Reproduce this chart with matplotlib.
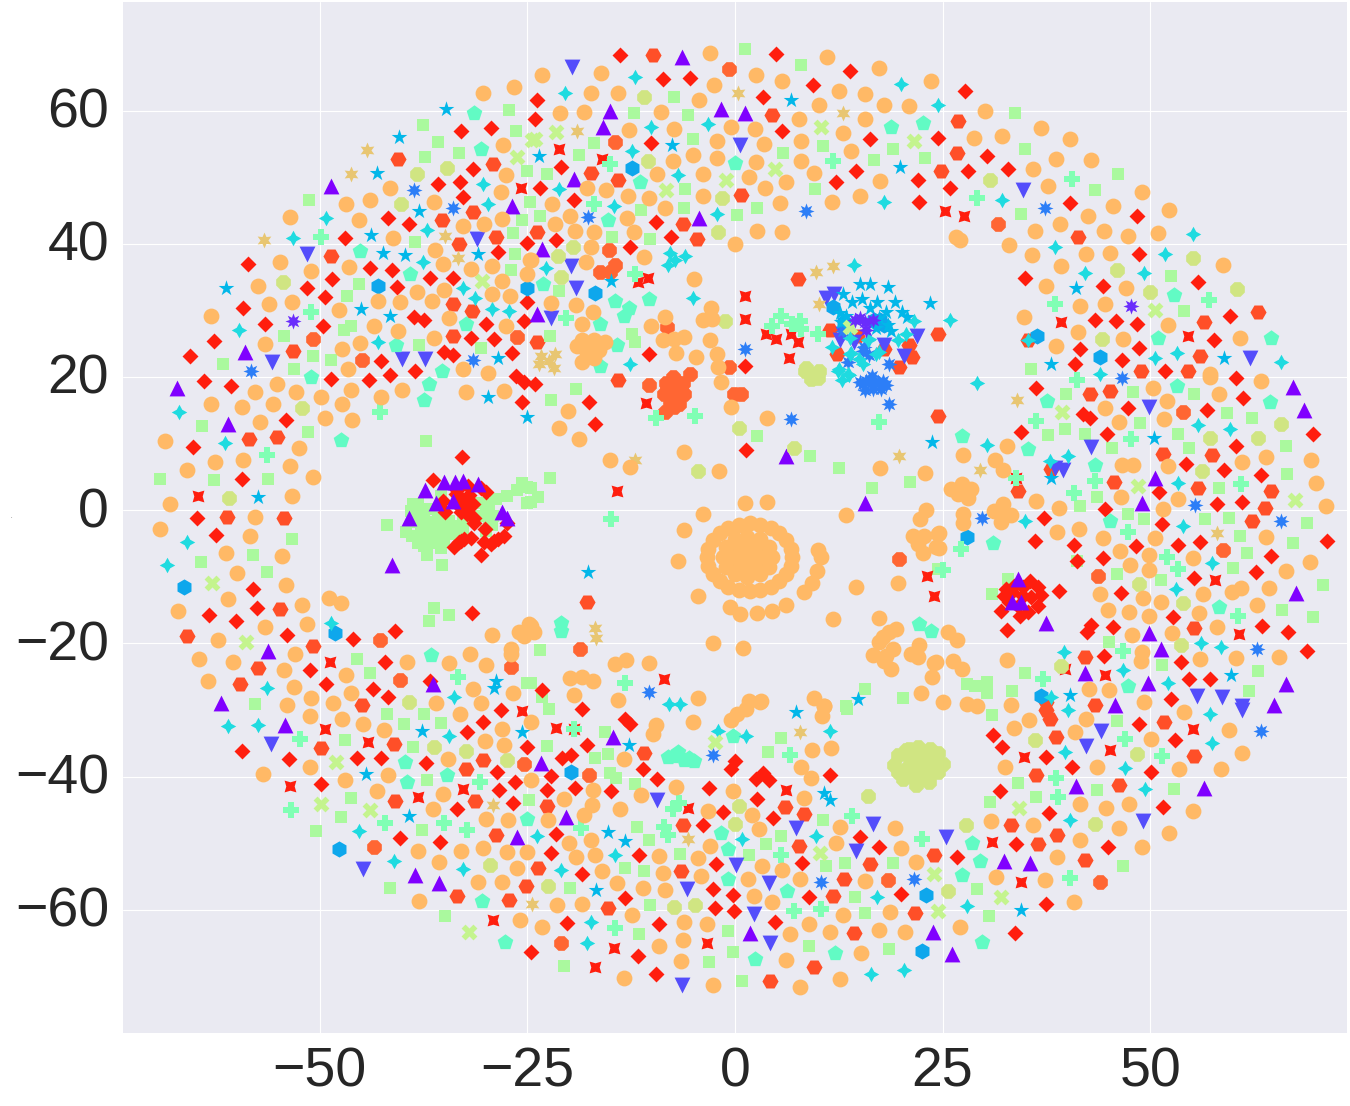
import matplotlib
matplotlib.use("Agg")
import matplotlib.pyplot as plt
from matplotlib.markers import MarkerStyle
from matplotlib.transforms import ScaledTranslation
import seaborn as sns

X_TICKS = [-50, -25, 0, 25, 50]
Y_TICKS = [-60, -40, -20, 0, 20, 40, 60]

# points, one list per class
tri_up = [(-48.7,48.6),(-26.8,45.6),(-59,23.8),(-6.4,68),(-15.1,60),(-15.9,57.6),(-1.7,60.3),(1.2,59.7),(-19.4,49.7),
    (-4.3,43.8),(-23.2,39.2),(-23.9,29.5),(-37.3,3),(-35.1,4.3),(-33.7,4.3),(-32.8,4.4),(-30.9,3.9),(-36,1.15),(-33.9,1.4),
    (-39.2,-1.1),(-28,-0.25),(-27.4,-1.25),(-41.3,-8.25),(-56.2,-21.1),(-67.2,18.4),(-61,13),(-36.4,-26.1),(-61.9,-28.9),
    (6.2,8.15),(15.7,1.15),(67.2,18.55),(68.5,15.05),(50.6,4.85),(49,1.1),(67.5,-12.5),(37.4,-16.95),(49.9,-18.45),
    (51.3,-20.9),(42.1,-24.5),(49.7,-25.95),(66.4,-26.15),(34.05,-10.35),(33.4,-13.85),(34.4,-13.85),(45.8,-29.25),
    (64.9,-29.25),(-54.2,-32.3),(-38.5,-54.8),(-35.6,-56.05),(-26.2,-49.05),(-14.7,-34.05),(-23.4,-37.95),(-20.4,-46.05),
    (1.8,-63.55),(23.8,-63.3),(41.1,-41.4),(56.5,-41.7),(32.4,-52.75),(35.5,-53),(26.1,-66.65)]
purple_star = [(-53.2,28.4),(47.7,30.7),(15,28.8),(15.8,27.1),(14.4,28.6),(15.6,28.3),(16.6,28.6)]
tri_down = [(-51.6,38.4),(-31.1,40.7),(-40.1,22.7),(-37.3,22.7),(-55.7,22.2),(-19.6,66.5),(0.6,54.8),(-19.7,36.7),
    (-19.1,33.4),(-22.2,28.8),(10.9,31.9),(11.9,32.4),(21.9,26.2),(20.3,23.2),(12.6,25.6),(17.9,24.8),(13,26.5),(14.3,25.25),
    (34.7,48.1),(62,22.8),(49.8,15.55),(42.9,9.45),(39.5,6.05),(38.5,6.4),(55.6,-27.85),(58.6,-28),(61,-29.35),(-55.9,-35.15),
    (-44.8,-53.95),(-9.4,-43.45),(0.1,-53.25),(4.1,-56.05),(7.4,-47.65),(14.6,-51.15),(16.6,-47.05),(-5.8,-56.85),(2.3,-60.7),
    (4.2,-65.05),(-6.4,-71.3),(61,-30.05),(44.1,-33.15),(42.3,-35.45),(49.1,-46.6),(25.4,-49.1)]
blue_star = [(-38.6,48),(-34,45.4),(-31.5,22.5),(-58.3,20.9),(-17.7,44),(8.6,44.9),(1.2,24.2),(37.3,45.4),(16.1,23.25),
    (15.5,24.5),(18.5,22),(13.6,22.2),(15.4,23.9),(13,26.9),(15.4,18.9),(16.5,20.2),(17.8,19.4),(16.6,18.2),(17.2,19.2),
    (15.8,19.4),(16.5,19.2),(15,19.2),(18.2,18.8),(15.6,18),(17.6,18.2),(16.2,19.6),(6.8,13.65),(18.6,16),(-10.3,-27.25),(46.6,19.9),
    (55.4,0.75),(65.8,-1.7),(29.7,-1.1),(62.9,-20.9),(-2.7,-36.8),(10.3,-55.85),(21.5,-55.4),(63.4,-33.1)]
blue_hex = [(-43,33.7),(-25,33.3),(-12.4,51.4),(-16.9,32.6),(11.8,30.5),(13.1,28.25),(17.5,28.5),(17.9,27.75),(16.7,28.5),(36.4,26.2),(44,23),
    (-66.4,-11.6),(-48.2,-18.45),(27.9,-4),(36.8,-27.85),(-47.7,-50.9),(-19.8,-39.3),(23,-57.75),(22.5,-66.2)]
sky_star = [(-34.8,60.3),(-40.5,56.1),(-43.1,50.6),(-38.1,44.9),(-43.8,41.3),(-42.4,38.6),(-39.7,38.3),(-30.9,38.4),(-61.3,33.3),
    (-45,30.2),(-41.6,29.2),(-28.6,22.8),(6.8,61.6),(19.9,51.5),(-7.6,54.9),(-23.6,53.2),(-14.9,34.4),(15,34),(16.3,34),
    (18.4,33.5),(23.5,31.1),(17.1,31.2),(15.3,31.75),(14.1,31.2),(19.3,31.2),(20.1,29.75),(20.7,29),(13,32.5),(13.4,29.1),(17.4,28.8),
    (18.4,27.8),(17,27.3),(12.8,28.3),(18.2,29.8),(18.8,26.9),(12.6,29.6),(16.2,30.4),(41.1,33.3),(58.9,22.8),(38.1,22),
    (-29.7,17),(-25,14),(-57.4,1.95),(-28.8,-25.6),(-29,-26.75),(23.7,10.3),(-17.7,-9.25),(14.8,-28.35),(50.5,10.9),(38.1,4.9),
    (59.7,-24.8),(40.4,-27.75),(-37.7,-33.15),(-25.6,-33.3),(-44.4,-39.65),(-39.3,-45.85),(-12.8,-35.2),(7.3,-30.3),(10.7,-42.5),
    (11.4,-43.55),(-15.3,-48.35),(-13.3,-49.7),(-16.7,-57.05),(34.4,-60.05)]
cyan_star = [(-30.3,48.9),(-29.7,45.9),(-49.2,43.9),(-53.2,40.8),(-37.1,42.1),(-37.6,37.3),(-32.7,33.4),(-31.3,31.9),(-29.3,30.2),
    (-27.2,29.9),(-59.7,27),(-43,25.2),(-12,65),(-20.5,62.7),(20,64),(-3.3,58),(-10.1,57.5),(-12.4,54),(-6.9,50.3),(-21.2,48.2),
    (18,46.3),(-2.2,44.4),(-22.8,36.4),(14.3,36.8),(-7.8,38.6),(-6,38.2),(-7.2,37.5),(-8.1,36.8),(-5,31.9),(-12.7,21.9),(-14.6,45.7),
    (11.7,24.5),(13.9,23.5),(14.9,22.75),(17.3,23.75),(16.1,25.75),(16,25.6),(13.8,25.9),(19.6,25.6),(17,23.4),(12.5,21.25),(20.6,26.4),
    (21.6,28.4),(14,23.6),(15.4,21.9),(13.7,20.25),(12.9,19.5),(13.6,20.4),(12.4,20.9),(24.5,60.8),(32.1,46.5),(55.1,41.5),(38.5,39.5),(51.8,38.4),(42.1,35.6),(49.3,35.6),
    (25.9,28.5),(35.3,25.6),(50.6,22.9),(53.2,23.6),(65.8,22.3),(-67,14.7),(-61.4,10.1),(-66,-4.75),(-68.4,-8.25),(-48.6,-16.95),
    (-56.3,-26.75),(-33.8,-28),(-7.9,-29.1),(-6.6,-29.1),(29.1,19.15),(44,20.5),(55.7,12.75),(59.6,12.15),(30.3,9.75),(37.9,7.4),
    (40.1,8.15),(53.4,4.15),(34.9,-1.6),(54,-2.4),(57.4,-7.95),(53.1,-11.8),(39.6,-21.25),(56.1,-19.95),(58.5,-20.55),(46.7,-23.95),
    (52.2,-25.9),(38.1,-28.1),(-61,-32.4),(-57.4,-32.3),(-34.5,-33.9),(-45.3,-48.1),(-41.1,-52.7),(-32.8,-53.9),(-2.1,-33.15),
    (1.3,-33.9),(11.5,-33.2),(0.9,-49.3),(9.7,-48.85),(-23.9,-48.9),(-14.5,-51.8),(-21,-54.05),(17.1,-58.05),(-17.3,-61.9),(-17.8,-65),
    (16.4,-69.65),(20.4,-69.1),(40.1,-29.95),(57.2,-30.65),(39.8,-36.35),(57.4,-35),(47,-38.75),(49.4,-41.9),(40.4,-46.5),(27.9,-59.45)]
pentagon = [(-31.4,59.7),(-30.6,54.3),(-45.2,38.9),(-39.1,35.4),(-32.4,28),(-40.8,24.8),(-35.3,20.9),(18.8,57.6),(22.6,58.2),(0,52.2),
    (-11.4,49.2),(-15.3,43.5),(-23.1,33.9),(-14.4,31.4),(-10.3,31.7),(-12.8,30.3),(-13.4,29.1),(-16.3,28),(-14.2,24.8),(-16.2,21.6),
    (52.9,32.3),(50.9,25.8),(64.5,25.9),(-51.1,20),(-36.8,19),(-37.4,16.6),(-47.4,10.5),(-36.6,-21.7),(-21,-16.95),(-20.9,-18.1),
    (22.2,-17.1),(23.6,-18.15),(53.2,18.65),(64.4,16.2),(37.6,16.45),(27.3,11.15),(35.3,9.15),(43.3,6.8),(45.2,-1.7),(31.1,-4.95),
    (58.3,-14.5),(47.3,-26.35),(-39.8,-37.85),(-39.5,-40.75),(-34.7,-39.8),(-25,-46.3),(-30.5,-58.75),(-27.7,-64.85),(-0.3,-33.85),
    (-8.1,-37.05),(-6.9,-36.3),(-6.1,-37.55),(-4.9,-37.65),(-7.5,-36.9),(-5.5,-37.2),(-1.7,-48.4),(-0.8,-50.9),(-0.9,-55.4),(6.3,-57.25),(12.1,-66.45),
    (2.4,-67.4),(28.5,-49.95),(29.5,-52.75),(27.3,-54.75),(29.8,-64.8)]
plus = [(-49.9,41),(-51,29.7),(11.8,52.4),(-15,52),(-17,46),(-12.1,35.5),(-20.4,28.8),(5.5,29.1),(4.5,27.6),(6.9,27.9),(7.9,27.2),
    (10,26.5),(7.8,28.4),(40.6,49.7),(29.1,46.9),(38.5,31),(57.1,31.6),(-42.8,14.7),(-56.3,8.3),(-33.4,-25),(-9.5,13.9),(-4.8,14.2),
    (17.3,13.25),(-14.9,-1.3),(-13.2,-26),(41.2,19.5),(36.3,13.35),(47.7,10.7),(43.3,4.4),(60.9,3.9),(40.8,2.65),(47.3,-3.3),(27.2,-5.8),
    (52,-7.05),(53.3,-8.85),(25,-9),(46.7,-21.2),(60.6,-15.9),(37.1,-25.3),(-52.4,-34.3),(-30.7,-40.75),(-53.5,-44.95),(-42.1,-47),
    (-35.1,-47),(-32.3,-47.95),(-19.4,-32.8),(6.6,-36.75),(14.1,-45.9),(-6.7,-43.9),(-7.5,-44.8),(22.5,-49.3),(-18.6,-47.75),(-8.6,-47.6),
    (-8.1,-48.8),(5.5,-51.7),(7.1,-60.2),(10.4,-59.9),(-14.5,-62.8),(47,-34.3),(51.4,-36.85),(38.6,-40.15),(38.9,-43),(40.3,-55.2),(33.8,4.9)]
square = [(-27.2,60.1),(-37.6,57.9),(-26.4,57),(-35.8,55.3),(-33.2,53.7),(-37.3,53),(-25,50.9),(-51.3,46.6),(-24.7,46.2),(-25.6,43.5),
    (-26.7,41.6),(-38.5,40.2),(-26.5,38.5),(-27,36),(-45.3,34),(-46.7,32.2),(-46.3,27.7),(-47.1,27),(-54.3,26.2),(-38.1,24.8),(-30.6,24.3),
    (-50.8,23.1),(-48.7,22.5),(-61.7,21.9),(-53.1,21.2),(1.2,69.2),(8,66.9),(-7.4,62.1),(-12.2,59.7),(-5.7,59.4),(-5,55.8),(-17,55.2),
    (10.6,54.7),(19,54.3),(5.8,53.7),(-18.8,53.4),(22.9,52.9),(16.7,52.6),(-22.7,50.5),(9.6,48.2),(-6,48.2),(-11.3,45),
    (-6.1,45.4),(2.6,45.4),(-23.5,44.2),(0.2,44.3),(-10.2,40.7),(-14.8,41),(-21.2,32.9),(-22.3,26.2),(-12.4,26.5),(-12.1,25.3),
    (33.7,59.7),(34.9,54.3),(46.1,50.4),(43.3,48),(34.4,44.4),(52.5,35.2),(54.1,29.9),(35.6,21.2),
    (-64.2,12.6),(-51.4,11.8),(-37.2,10.4),(-69.2,4.7),(-62.7,4.5),(-56.2,4.65),(-53.3,-4.35),(-58.1,-6.75),(-64.3,-7.8),(-56.3,-9.3),
    (-36.3,-14.75),(-34.4,-15.75),(-36.9,-16.65),(-45.5,-22.4),(-44,-24.5),(-25,-26),(-57.8,-29.1),
    (-41.9,-2.25),(-38.8,0.9),(-38.2,0.9),(-39,-0.1),(-38.8,-1.85),(-39.6,-3.25),(-38.9,-3.85),(-38.2,-5),(-37.4,-5.4),(-37.1,-6.75),
    (-35.3,-8.25),(-37.4,-0.35),(-36.8,-1.85),(-36.8,-2.85),(-36,-3.85),(-35,-4.85),(-35.6,-2.35),(-34.6,-2.85),(-33.6,-2.35),(-32.8,-1.6),
    (-32.8,-2.85),(-34.4,-1.6),(-30.8,1.15),(-29.8,-0.1),(-29.6,-1.85),(-28.8,1.75),(-27.4,2.15),(-26.3,3),(-25.6,4.15),(-25,3.55),(-25,1.15),
    (-31,-0.85),(-35.4,2.15),(-38,-0.5),(-38,-1.8),(-37.8,-3),(-37.5,-4),(-36.8,-4.5),(-36,-5),(-35.4,-5.7),(-35.8,-1),(-35.2,-1.5),(-34,-3.6),
    (-33.5,-3.4),(-33,-3.6),(-34.8,-3.6),(-35.5,-3.2),(-37,0.2),(-30,1),(-29.6,0.5),(-29.2,-0.8),(-29.3,-2.2),(-30,-3.2),
    (-19.1,18.15),(-22.1,16.5),(2.6,11.1),(9,8.1),(12.5,6.3),(-22.3,4.8),(-23.7,2),(-24.6,3.4),(-24.6,1.25),
    (16.5,3.3),(21.1,4.2),(-23.5,-21),(15.6,-26.9),(20.2,-28.2),(24.4,-8.85),(-24.6,-25.9),(-23.3,-28.1),(13.4,-29.35),
    (39.9,17.5),(47.9,17.7),(55.3,17.4),(59.3,14.55),(62.3,13.8),(39.8,12.15),(48.8,13.05),(37.7,11.25),(42.1,11.4),(53.3,11.5),(45.4,9.35),
    (54.7,9.4),(66.4,9.6),(66.5,5.4),(58.3,3.35),(43.6,1.95),(41.5,0.6),(47.3,-0.6),(49.2,-1.4),(56.6,-1.35),(59.5,-1.2),(60.8,-3.9),(68.9,-1.95),
    (67.2,-4.95),(61.7,-6.45),(60,-8.7),(46,-9.6),(51.3,-10.5),(70.8,-11.25),(32.9,-10.35),(31,-12.6),(65.9,-15),(69.6,-16.1),(45,-19.8),
    (51.4,-23.25),(34.9,-24.45),(63,-24.15),(27.9,-26.1),(28.9,-26.4),(30.4,-25.75),(30.3,-27.45),(33.4,-27.15),(61.9,-27.15),(41.2,-7.7),
    (-41.9,-30.55),(-37.5,-30.55),(-39.9,-32.05),(-35.4,-31.9),(-47,-34.45),(-38.8,-35.5),(-37.1,-40.45),(-46.3,-43.15),(-24.8,-43.45),(-47.5,-46),
    (-50.5,-48.1),(-37.7,-47.95),(-41.5,-56.8),(-34.9,-60.95),(-22.4,-29.8),(-15.7,-33.3),(-22.7,-35.35),(5.5,-34.15),(4,-36.25),(-15.3,-36.55),
    (-16.9,-37.15),(-15.1,-39.4),(-14.3,-40.15),(-12.1,-41.05),(10.6,-46.45),(5.5,-48.85),(-11.8,-47.5),(-10.4,-49.45),(3.7,-50.05),(-6.6,-51.55),
    (1.7,-51.7),(10.9,-53.5),(13.3,-53.05),(19,-53.05),(-13.2,-53.8),(-10.9,-54.25),(-19.9,-56.8),(14.4,-58.05),(-10.2,-59.35),(15.7,-60.55),
    (-0.8,-63.25),(-11.6,-63.7),(8.9,-65.5),(18.5,-65.95),(-0.3,-66.4),(-3.1,-67.9),(-20.6,-68.5),(0.8,-70.75),(13.5,-29.8),
    (30.9,-30.7),(46,-31.6),(34.1,-40.9),(43.6,-41.95),(52.9,-41.85),(36.2,-43),(30.7,-43.75),(46.7,-53.5),(29.1,-56.95),(30.6,-60.95)]
cross = [(-26.2,53),(-30.5,34.4),(-24.5,55.6),(-21.6,56.8),(-24.1,55.7),(10.3,57.6),(21.5,55.4),(4.8,51.2),(-1.1,49.5),(-8.3,48),(13.9,27.5),
    (50.6,30),(-63,-10.95),(-58.9,-19.8),(39.4,14.8),(48.5,3.6),(67.4,1.55),(-48.1,-37.8),(-49.9,-44.1),(-44,-45),(-32,-63.3),(-2.4,-34.8),
    (10.2,-51.4),(24,-54.65),(24.4,-60.2),(34.2,-44.7),(32,-58.15)]
yellow = [(-38.3,50.5),(-34.7,51.4),(-40.2,46),(-54.4,34.3),(-11,62),(-10.5,52.5),(-1.6,46.9),(-2,41.7),(-19.5,39.5),(-21.3,38.2),(-20.9,35),
    (-1.2,28.4),(8.4,20.9),(9.4,20.4),(10.1,20.9),(9.1,19.7),(10,19.9),(8.6,21.4),(30.7,49.5),(55.2,37.9),(46,36),(50,32.8),(60.5,33.2),(44.2,25.7),
    (-52.1,15.3),(-60.9,1.8),(-39.3,-28.85),(0.5,12.35),(7.1,9.4),(-4.4,5.9),(65.7,12.9),(57.2,10.8),(63,10.85),(56.2,5.85),(48.7,-11.05),(54,-13.9),
    (53.7,-20.2),(39.2,-23.45),(-36.3,-35.55),(-32.4,-36.1),(-27.5,-37.5),(-29.5,-53.3),(0.5,-44.4),(0,-47.15),(-22.5,-56.45),(-7.4,-59.55),(-4.8,-59.3),
    (16,-42.85),(20.6,-36.05),(22,-35.55),(23.4,-36.3),(19.6,-36.8),(19.2,-38.3),(20.2,-40.3),(21.8,-41.3),(23.4,-40.8),(24.4,-39.3),(24,-37),(21.4,-38.1),
    (22.6,-38.55),(20.8,-38.55),(22.8,-36.55),(21.6,-39.8),(25,-38.05),(22,-37.5),(23.5,-38),(24.5,-36.5),(21,-37),(23,-39.5),(20.5,-39.5),(22.3,-40.3),
    (24,-38.5),(21,-35.8),(23.5,-35.9),(19.6,-39.3),(36.1,-34.55),(48.4,-36.6),(27.8,-47.3),(43.3,-47.15),(25.7,-57.2)]
tan_star = [(-44.3,54.1),(-46.2,50.5),(-56.7,40.6),(-34.9,41.1),(-33.3,37.8),(0.4,62.7),(13,59.7),(-19,57),(9.8,35.7),(11.8,36.6),(10.1,30.9),(-23.4,23.1),
    (-21.7,23.5),(-22.4,22.4),(-23.6,21.9),(-21.8,21.4),(-12,7.55),(19.8,8.1),(-16.9,-17.7),(-16.7,-19.25),(33.9,16.5),(29.5,6.1),(58,-3.4),
    (-29.1,-44.3),(-24.4,-59.15),(7.8,-33.25),(-5.6,-49.35)]
circle = [(-30.3,62.7),(-26.6,63.6),(-27.9,54.8),(-27.6,50.3),(-28.2,47.8),(-41.6,48.4),(-43.9,46.5),(-46.8,46),(-45.3,43.5),(-53.6,44),(-36.3,46.3),
    (-32.8,42.6),(-30.2,42.9),(-28.1,43.7),(-41.2,40.8),(-36.1,39.1),(-35.2,36.9),(-31.8,36.2),(-29.3,36.6),(-54.8,37.3),(-51,35.9),(-46.5,36.5),
    (-57.5,33.7),(-53.3,31.2),(-56.1,30.9),(-63.1,29.1),(-47.7,30),(-43,31.4),(-40.3,31.2),(-38.3,32.7),(-36.5,31.4),(-35.1,33),(-28,34.4),(-29.3,32.5),
    (-27.1,32.2),(-25,35.4),(-24.7,37.5),(-34.5,28.8),(-27.6,27.6),(-43.5,27.7),(-40.6,26.9),(-36.2,25.9),(-45.1,25.1),(-47.3,24.2),(-56.6,24.9),
    (-46.6,21.2),(-32.8,21.2),(-29.7,20.6),
    (-3,68.7),(-23.3,65.3),(-16.1,65.7),(-17.4,62.6),(-14.1,62.7),(-2.5,63.8),(2.5,65.3),(5.6,64.4),(11.1,68.1),(17.4,66.4),(23.6,64.5),(12.5,63),
    (15.6,62.5),(-4.3,61.6),(-21.1,59.6),(-18.2,59.8),(-8.9,59.8),(10.1,60.8),(18,60.8),(21,60.7),(7.7,58.8),(15.6,58.7),(-12.8,57.1),(-7.3,57.3),
    (-0.5,57.5),(2.4,57.2),(13,56.7),(-2.2,55.4),(3.5,55),(8,55.5),(14,54),(-5,53.3),(-2.2,52.9),(-7.5,52.5),(2.5,52.3),(7.9,52.4),(-9.4,50.4),(-3.8,50.4),
    (1.7,50),(9.5,50.7),(6.2,49.2),(17.5,49.4),(-17.8,48.3),(-15.5,48),(-12.9,47.2),(-10.3,46.9),(-3.9,47.2),(3.6,48.3),(-22,45.9),(-8.4,45.4),(5.4,46.1),
    (11.7,46.2),(15.1,47.2),(-19.9,44.2),(-13,43.8),(-21.7,42.9),(-19.3,41.9),(-17,41.8),(-12.2,41.7),(2.7,41.9),(5.7,41.8),(0,39.9),(-17.3,39.5),(-11,38),
    (-17.9,37.2),(-24.6,37.5),(-4.9,34.7),(-22.1,31.1),(-19.2,30.8),(-17.1,29.7),(-18.4,28),(-2.9,30.4),(-8.4,29),(-3.9,28.5),(-2.8,28.7),(-10.1,27.7),
    (-6.1,26),(-7.3,25.7),(-8.7,25.6),(-3,25.5),(-7.1,23.6),(-4.7,23),(-2.2,23.5),(-2.1,21.5),(-17,25.6),(-18.4,25.6),(-19,24.7),(-17.4,24.7),(-15.6,25.3),
    (-16.4,24.1),(-17.8,23.4),(-18.4,22.2),(-17,22.9),
    (30.1,60),(36.8,57.4),(40.4,55.8),(28.8,55.9),(32.1,56.2),(38.7,52.7),(42.9,52.6),(35.9,51.2),(37.7,48.6),(49,47.8),(45.5,45.6),(52.3,45),(42.5,44.1),
    (39.1,42.9),(44.4,41.9),(36.1,41.9),(47.3,41.1),(50.9,41.6),(26.6,41),(27.1,40.5),(33,39.8),(35.8,38.3),(42.3,38.5),(45.1,38.6),(58.8,36.8),(39.3,36.6),
    (37.5,33.7),(47.1,33.4),(44.6,31),(41.6,30.6),(34.8,29),(52.2,27.8),(41.3,26.7),(46.7,25.7),(60.8,25.8),(38.7,24.7),(57.2,20.4),
    (-55.2,19),(-57.8,17.8),(-52.9,17.8),(-49.8,17),(-46.2,18.1),(-40.1,18),(-42.6,17),(-32.4,17.8),(-27.8,17.9),(-63.1,16),(-59.4,15.5),(-55.6,16),(-47.3,16),
    (-49.4,13.9),(-46.1,13.5),(-57.2,13.2),(-68.7,10.4),(-52.5,9.4),(-62.6,7.3),(-59.2,7.5),(-66,6.1),(-53.6,6.7),(-50.8,4.95),(-53.4,2.2),(-68.1,1),(-57.8,-1),
    (-69.2,-2.9),(-58.4,-3.9),(-61.3,-6.5),(-54.5,-6.9),(-60,-9.5),(-54.1,-11.3),(-61.1,-13.4),(-48.9,-13.2),(-47.5,-13.9),(-52.1,-14.2),(-67.1,-15.1),(-56.6,-17.6),
    (-51.6,-17.1),(-62.2,-19.5),(-29.3,-18.8),(-26,-18.3),(-25.4,-18.9),(-24.8,-17.1),(-27,-20.9),(-27,-21.6),(-64.5,-22.4),(-53,-21.6),(-60.5,-22.8),(-31.9,-21.6),
    (-34.5,-22.9),(-39.5,-22.8),(-30,-23.2),(-54.3,-24),(-46.9,-24.7),(-63.5,-25.7),(-53.1,-26.6),(-46.3,-27.4),(-31.5,-26.9),(-26.7,-27.5),(-51,-28.2),(-54,-29.2),
    (-48.4,-28.9),(-36,-28.9),(-30.6,-28.9),
    (-1.7,19.3),(-0.5,15.5),(3.9,13.8),(-20.1,14.9),(-21.2,12.4),(-18.8,10.7),(-6.1,8.75),(-15.1,7.6),(-12.6,6.55),(-1.9,5.9),(17.5,6.35),(22.9,5.6),(1.2,1.1),(3.8,1.25),
    (-3.9,-0.5),(13.4,-0.7),(-6.2,-3),(-6.9,-7.6),(10,-5.95),(10.3,-7.1),(9.9,-9.2),(9.3,-10.9),(8.3,-12.35),(6.2,-14.3),(4.4,-15.15),(2.6,-15.45),(0.6,-15.6),(-0.6,-14.6),
    (-4.5,-12.9),(14.6,-11.6),(19.6,-10.9),(11.8,-16.3),(17.4,-16.2),(-2.7,-19.9),(1,-20.65),(-10.3,-23),(-13.1,-22.55),(-14.5,-23.05),(-19.9,-25.15),(-18.4,-25.05),
    (-17.1,-25.6),(-19.4,-27.75),(-14.1,-28.55),(-4.4,-28.2),(22.4,-27.45),(-24.6,-17.35),(-24.2,-18.35),(19.4,-17.85),(18.6,-18.35),(17.8,-19.1),(17.4,-19.85),(19,-20.85),
    (16.6,-21.75),(18.2,-21.9),(18.8,-23.85),(18,-22.6),(22.2,-20.25),(21.2,-21.6),(22,-22.1),(24,-22.95),(23.7,-25.1),(23,0.05),(22.3,-1.35),(21.4,-3.85),(22.8,-3.85),
    (24.4,-3.6),(22,-5.1),(22.6,-6.45),(24.2,-5.6),(1.7,-28.6),(3.1,-28.6),(9.5,-28.25),(10.7,-29.35),
    (6.85,-7.1),(6.7,-5.8),(6.15,-4.55),(5.35,-3.5),(4.3,-2.7),(3.05,-2.2),(1.75,-2),(0.45,-2.2),(-0.8,-2.7),(-1.85,-3.5),(-2.65,-4.55),(-3.2,-5.8),(-3.35,-7.1),(-3.2,-8.4),
    (-2.65,-9.65),(-1.85,-10.7),(-0.8,-11.5),(0.45,-12),(1.75,-12.2),(3.05,-12),(4.3,-11.5),(5.35,-10.7),(6.15,-9.65),(6.7,-8.4),
    (4.5,-7),(4.1,-5.5),(3,-4.4),(1.5,-4),(0,-4.4),(-1.1,-5.5),(-1.5,-7),(-1.1,-8.5),(0,-9.6),(1.5,-10),(3,-9.6),(4.1,-8.5),(3,-7),(2.3,-5.7),(0.7,-5.7),(0,-7),(0.7,-8.3),(2.3,-8.3),(1.5,-7),
    (50.3,18.35),(57.2,20),(63.4,19.45),(58.3,17.45),(52,16.4),(44.6,15.4),(51.7,13.65),(46.3,13.25),(32.8,9.7),(27.4,8.3),(64,8.05),(69.4,7.6),(31.3,7.5),(32.3,6.1),(61.1,7.2),
    (46.6,6.85),(47.9,6.8),(52.1,6.6),(70,4.15),(53.3,1.65),(46.5,1.95),(51.5,0.2),(36.2,1.4),(39,0.4),(71.2,0.6),(41.4,-2.9),(38.8,-3.35),(44.3,-4.25),(50.6,-4.25),(63.9,-4.05),
    (46.4,-6.15),(49.9,-6.7),(55.1,-7.15),(47.6,-8.2),(49.8,-8.95),(69.3,-7.8),(66.3,-9.2),(44,-12.55),(49.1,-13.2),(51.3,-13.75),(56.3,-12.65),(59.9,-12.35),(60.9,-11.75),(64.3,-11.7),
    (62.9,-14.2),(44.9,-15.05),(47.5,-15.25),(49.9,-15.95),(55.9,-15.4),(58.1,-17.5),(47.8,-18.8),(52.6,-18.4),(49,-21.35),(48.9,-22.7),(56,-22.35),(60.3,-22.25),(65.5,-22),(32.7,-22.45),
    (26.3,-22.65),(27.3,-23.85),(42.6,-26.9),(45,-26.95),(49.2,-28.85),(25.6,-18.25),(26.7,-19.5),(24.2,-22.85),(25.1,-28.75),(27.9,-29.1),(29.1,-29.35),(33.2,-29.25),(26,3.25),(27.3,3.9),
    (28.4,3.15),(26.8,2.4),(28,1.8),(27.4,2.9),(32.3,1),(31.2,-0.1),(33.2,-0.75),(32,-1.85),(32.2,-0.35),(27.4,-0.5),(27.5,-2),(24.6,-3.5),(24.6,-5.7),
    (-51.2,-30.9),(-47.3,-31.3),(-44.8,-32.1),(-42.3,-33),(-33.1,-30.6),(-28.1,-32.85),(-30.1,-34.7),(-27.8,-35.2),(-34.6,-37.35),(-51.2,-38.55),(-56.9,-39.65),(-47,-40.45),(-41.8,-39.8),
    (-43.1,-42.2),(-35.2,-42.6),(-36.4,-44.85),(-30,-46.35),(-27.3,-46.5),(-24.6,-40.55),(-38.2,-51.2),(-33,-51.15),(-30.3,-50.75),(-27.5,-51.35),(-25,-51.3),(-35.7,-52.85),(-26.3,-53.7),
    (-30.9,-55.85),(-28,-55.85),(-38,-58.75),(-25.9,-61.6),(-24.6,-31.8),
    (-9.5,-32.3),(-9.9,-33.55),(-5,-31.75),(-13.4,-37.35),(9.3,-35.95),(11.6,-35.7),(8,-38.55),(9.1,-40.2),(-0.5,-31.55),(0.3,-30.65),(1.3,-29.8),(3,-28.8),(10.5,-30.95),(10.7,-29.45),
    (-7.1,-41.5),(-0.3,-42.2),(8.3,-43.15),(-17.1,-42),(-11.3,-42.8),(-20.6,-43.35),(-17.2,-44.2),(-13.8,-44.9),(-18.2,-45.7),(-3.3,-45.1),(2.1,-45.75),(2.9,-47.8),(-22.5,-46.5),(12.6,-47.6),
    (19.3,-47.7),(-20,-49.95),(-17.3,-49.45),(12.2,-49.95),(20,-50.65),(-3,-50.35),(-16.8,-51.7),(-19.2,-52.1),(-9.1,-51.85),(-4.4,-52.2),(3.2,-53.4),(21.8,-52.85),(-16,-54.25),(-8.7,-54.5),
    (-4.1,-54.9),(5.7,-54.05),(1.6,-55.4),(7.8,-55.35),(15.6,-55.65),(-14.2,-56.05),(-11.1,-56.8),(-8.4,-57.05),(2.3,-57.9),(4.5,-58.9),(-21.4,-59.3),(-18.4,-59.2),(-12.4,-60.85),(-6.2,-61.85),
    (-3.4,-62.2),(13,-60.75),(18.7,-60.4),(-23.3,-62.6),(8.9,-62.2),(11.4,-63.4),(17.3,-63.05),(20.5,-63.3),(6.6,-63.7),(-6.3,-64.6),(-9.1,-65.4),(15.2,-66.45),(6.1,-67.6),(-6.5,-67.7),
    (-13.4,-70.2),(-2.6,-71.25),(12.6,-70.4),(7.8,-71.6),
    (35.4,-31.45),(33.6,-32.65),(42.3,-31.4),(40.9,-33.35),(54.1,-30.35),(59.5,-32.95),(50.1,-34.3),(32.5,-38.5),(43.6,-38.55),(61.1,-36.5),(53.5,-38.85),(58.5,-38.9),(41.5,-44.15),(44.7,-44.65),
    (47.4,-44.1),(55.2,-45.15),(30.8,-46.6),(35.9,-47.25),(46.3,-47.75),(52.3,-48.45),(41.6,-49.55),(49,-50.6),(38.8,-52.1),(31.4,-55.1),(37.3,-55.55),(40.8,-58.9),(27.1,-62.65)]
hexagon = [(-40.6,52.7),(-29.1,52),(-31.6,44.7),(-35.3,43.5),(-33.2,39.9),(-28.8,41),(-48.6,38.1),(-33.9,31),(-31.7,29.9),(-33.9,26.2),(-53.2,23.9),(-9.9,68.3),(4.5,59.4),(-17.3,50.7),
    (-14.1,49.6),(0.7,47.3),(-23.9,41.8),(-6.3,42.9),(-4.6,40.7),(7.6,34.7),(-23.8,25.2),(24.5,26.4),(11.4,27),(14.7,26.1),(12.3,23.5),(20.9,24.75),(21.3,23),(19.8,21.5),(18,24.25),
    (26.9,58.5),(26.7,53.6),(24.8,51),(41.3,41),(63,29.7),(56.5,28.3),(56,23.2),(48.9,20.9),(54.6,20.9),(35.3,25.6),
    (-58.5,10.75),(-55.2,11),(-61.2,-1.05),(-54.3,-1.15),(-54.8,-14.9),(-66,-18.85),(-50.8,-20.35),(-57.4,-23.75),(-59.6,-26.1),(-44.9,-29.25),(-14.1,19.55),(-17.8,-13.8),(24.4,14.15),
    (42.7,17.45),(45.1,17.85),(51.5,8.45),(57.4,8.3),(45.7,4.25),(55.8,3.35),(64.5,2.9),(34.1,2.9),(63.8,0.4),(62.2,-1.65),(55.3,-17.65),(42.1,-22),(37.5,-28.85),(43.3,-29.25),(38.1,6.15),
    (-49.8,-35.7),(-41.1,-35.1),(-30.3,-37.45),(-32.4,-38.85),(-41,-43.65),(-31.3,-43.7),(-28.8,-48.75),(-25.2,-56.45),(-33.5,-57.9),(-27.2,-58.6),
    (-11,-36.5),(-22.7,-44.4),(-6.3,-47.2),(6,-44.5),(8.3,-45.65),(7.7,-50.45),(-23.7,-53.8),(16.3,-53.2),(-6.5,-54.25),(13.1,-55.35),(11.8,-57.9),(-15.3,-59.8),(21.7,-60.45),(14.3,-63.5),
    (9.5,-68.55),(4.2,-70.65),(24,-51.7),(38.6,-34.05),(36.3,-39.8),(46.2,-41.3),(55.3,-36.85),(51.7,-31.75),(33.2,-47.3),(38.8,-48.75),(36.5,-50.1),(42.1,-52.5),(37.5,-29.95),(37.9,-31.3)]
octagon = [(-50.8,25.7),(-44.9,22.5),(-26.2,26),(-0.7,66.2),(-14.5,55.3),(-15.2,39),(-16.3,35.7),(-15,35.7),(-14.5,36.8),(-8.2,27.5),(-0.7,21.5),(31.7,43),
    (-42.8,-19.45),(-40.3,-25.5),(-27,-23.6),(-7.3,18.25),(-8.3,19.15),(-6.3,19.15),(-8.5,17.4),(-6.1,17.4),(-7.3,16.65),(-7.3,19.65),(-5.4,20.4),(-10.4,18.75),(-7.3,15.55),(-8.4,14.75),
    (-7.3,17.5),(-6.5,18.2),(-8.2,18.2),(-7.8,16),(-6.8,16),(-7.5,20),(-0.1,17.4),(0.7,17.4),(19.7,-7.35),(-18.7,-20.9),(54,14.8),(58.8,-5.95),(43.7,-9.85),(-25.4,-38.1),(-43.5,-50.55),
    (-17.6,-39.75),(18.4,-55.55),(-21,-65),(43.9,-55.85)]
diamond = [(-33,56.9),(-29.4,57.4),(-31.5,51.2),(-35.8,48.9),(-33.1,49.2),(-32.7,47),(-41.8,43.9),(-39.2,42.9),(-47,40.9),(-58.6,37),(-28.6,38.8),(-25.1,40.1),(-43.9,36.3),(-41.3,36),
    (-36.7,34.9),(-34,34.9),(-48.5,34.7),(-51.6,33.3),(-40.7,33.5),(-49.4,32),(-59.3,30.3),(-56.6,28),(-25.1,31.2),(-38.7,29),(-37.5,28.5),(-30,28),(-25.4,28.4),(-49.6,27.7),(-31.8,25.9),
    (-29,25.7),(-62.7,25.4),(-65.6,23.2),(-35,23.7),(-33.9,23.3),(-26.9,23.6),(-42.6,22.4),(-38.5,20.9),
    (-13.9,68.3),(4.9,68.5),(-8.7,64.8),(-5.4,64.9),(9.4,63.9),(13.9,66),(-23.8,61.6),(3.4,62),(-24.1,58.7),(5.7,56.9),(16.3,55.8),(-10.1,55.1),(-20.9,51.6),(14.6,50.9),(12.2,49.3),(22,49.5),
    (-23.5,48.4),(-19.4,46.5),(22.2,46.2),(-9.5,43.3),(-21.5,40.6),(-7.7,41),(-12.7,39.5),(-10.3,23.4),(1.2,21.7),(24.4,55.9),
    (27.7,62.9),(30.4,53.2),(28,50.9),(32.9,51.3),(25.9,48.3),(40.3,46.1),(48.4,44.1),(48.6,38.4),(34.9,34.9),(44.3,33.6),(55.8,34.3),(43.3,28.5),(45.9,28.4),(48.4,27.9),(59.6,29.2),(57.7,25.5),
    (41.6,24.2),(48.6,24.3),(46.6,22.6),(41,21.9),(51.8,20.9),
    (-64,19.4),(-60.7,18.6),(-48.7,19.7),(-44.1,19.5),(-41.5,20.3),(-26.4,20.2),(-25.4,19.2),(-25.6,16.2),(-54.1,13.6),(-65.3,9.5),(-59.4,4.7),(-32.9,8),(-64.8,-1.2),(-62.5,-3.8),(-58,-11.8),
    (-57.6,-14.7),(-63.4,-15.7),(-60.1,-16.6),(-31.7,-15.4),(-53.9,-18.7),(-41,-18.1),(-46,-19.3),(-42.1,-22.8),(-51.2,-24),(-49.2,-26.1),(-43.6,-26.8),(-36.7,-25.6),(-41.8,-28.1),
    (-36.4,4.6),(-32.1,3.7),(-30.6,3.4),(-30,2.8),(-33.6,2.4),(-32.4,1.65),(-35.2,1.4),(-33.2,0.65),(-34.9,-0.2),(-32.2,0.4),(-31.4,-1.1),(-31.4,-1.9),(-30.1,-2.9),(-27.5,-1.95),(-31.8,-4.25),
    (-32.6,-4.35),(-33.2,-4.85),(-33.8,-5.5),(-29.4,-5.1),(-28.6,-4.35),(-27.8,-3.85),(-30.6,-6.75),(-33,1.8),(-32,2.3),(-33.5,3),(-31.5,1),(-33,-0.3),(-32.3,-0.6),(-30.2,-4.8),(-29,-4.7),(-33,-4.6),
    (-24.1,19),(-17.6,16.3),(-16.9,12.95),(1.3,9),(-23.3,-27.05),
    (36.3,18.35),(60.3,19.85),(61.2,16.85),(47.3,15.4),(56.8,15.1),(41.9,14.5),(42.8,13.8),(44.8,11.45),(34.5,11.8),(69.6,11.4),(60.3,9.6),(54.3,6.9),(58.9,6.05),(63.3,5.3),(51.1,2.7),(58,0.9),(61,1.3),
    (44.6,0.2),(37.2,-1.25),(51.4,-2.15),(36.1,-4.6),(40.8,-5.25),(48.3,-5.4),(53.3,-5.2),(56,-4.85),(71.3,-4.7),(44.3,-7.25),(41.2,-7.7),(64.6,-6.85),(62.8,-9.3),(55.3,-10.25),(39,-12.2),(46.5,-12.45),
    (52.7,-16),(42.9,-17.2),(42.4,-18.35),(45.5,-17.55),(63.5,-17.4),(66.6,-18.35),(32.8,-18),(68.9,-21.1),(44.4,-21.9),(53.7,-22.85),(54.7,-25.3),(57.2,-25.3),(52.5,-28.35),
    (32.6,-11.85),(33.6,-11.35),(35.5,-10.6),(36.5,-11.6),(36.9,-12.75),(32.4,-12.85),(33.4,-12.35),(34.7,-12.85),(35.7,-13.1),(33,-13.85),(32,-15.1),(34.05,-14.35),(35.3,-15.35),(34.3,-15.85),(36.5,-14.35),(34.7,-11.6),
    (-59.4,-36.2),(-53.7,-37.35),(-45.5,-37.2),(-42.6,-37.2),(-37.2,-38),(-32.3,-33.35),(-30.4,-31.8),(-28.2,-29.95),(-25.1,-35.6),(-28.7,-39.35),(-26.5,-40.85),(-28.4,-41.95),(-26.7,-44),(-49.8,-41.1),(-33.5,-44.8),
    (-40.4,-49.15),(-35.5,-49.8),(-24.6,-66.3),
    (-18.4,-29.85),(-13.2,-31.3),(-12.6,-32.05),(-17.8,-35.3),(-20.8,-37.2),(-19.7,-36.8),(-11.1,-38.9),(-9.4,-40.35),(0,-37.7),(-0.5,-38.9),(-3.1,-41.7),(3.4,-39.45),(2.5,-40.4),(4.1,-40.55),(11.4,-39.8),(-22.1,-39.95),
    (-19.3,-41.75),(-22.7,-41.95),(-14.9,-42.2),(2.6,-43.35),(-1.4,-45.25),(4.6,-46.25),(-3.9,-47.3),(-21.5,-48.6),(15.1,-49),(17.4,-50.6),(-22.2,-51.5),(-11.6,-51.7),(-2.3,-53.15),(8.1,-52.95),(-18.4,-54.65),(-2.7,-56.9),
    (-0.2,-57.8),(-13.2,-58.2),(8.9,-58.05),(20,-57.7),(-2.4,-59.75),(-0.1,-60.2),(-20.2,-61.95),(-9.1,-62.2),(4.8,-61.8),(-11.7,-66.95),(-9.5,-69.65),
    (31.1,-33.75),(32.1,-35.55),(37.4,-37),(40.6,-38.6),(48.6,-32.15),(53,-34.5),(50.1,-39.25),(31.9,-42.15),(37.8,-45.4),(51.5,-44.55),(33.8,-50.1),(44.9,-50.55),(26.7,-52.1),(37.4,-59.15),(33.7,-63.55)]
red_star = [(-25.8,48.3),(-21.2,54.2),(-16,52.7),(-11.7,34.3),(-10.5,34.9),(1.2,32.1),(1.2,28.7),(3.7,26.4),(4.9,25.7),(6.5,22.9),(6.8,26.4),(7.6,25.2),(25.3,44.9),(27.6,44.2),(39.2,28.2),(54.5,26.1),
    (-64.7,2.1),(-48.8,-22.75),(-10.7,16.1),(-14.2,2.95),(23.1,-9.95),(24,-12.9),(-8.5,-25.3),(33.8,4.9),(57.8,-10.55),(60.7,-18.6),(39.8,-23.85),(44.5,-24.75),(-49.4,-32.9),(-44.2,-34.85),(-53.6,-41.35),(-38.2,-43.1),
    (-32.8,-41.8),(-25.7,-30.2),(-29.1,-61.5),(-21.5,-32.65),(-19.4,-32.8),(-5.7,-44.65),(6.1,-42.05),(-3.4,-65),(-14.6,-65.8),(-16.8,-68.6),(55.1,-32.8),(34.8,-37.1),(45.1,-35.95),(31,-49.85),(34.4,-55.9)]

# draw order, marker, size, colour
CLASSES = [
    (hexagon, "H", 135, "#ff4f28"),
    (octagon, "8", 130, "#ff6633"),
    (square, "s", 72, "#aaf99e"),
    (diamond, "D", 66, "#ff1e0e"),
    (red_star, (4, 1, 45), 145, "#ff1e0e"),
    (tri_up, "^", 130, "#8000ff"),
    (tri_down, "v", 130, "#544dfb"),
    (blue_hex, "h", 135, "#0ea7ec"),
    (blue_star, (8, 1, 0), 135, "#2c7ef7"),
    (sky_star, "*", 140, "#02b7e9"),
    (pentagon, "p", 140, "#62fbc4"),
    (cyan_star, (4, 1, 0), 125, "#1fdbe0"),
    (plus, "P", 130, "#80ffb4"),
    (cross, "X", 130, "#c4f48e"),
    (yellow, "8", 130, "#d0e582"),
    (tan_star, (6, 1, 0), 130, "#e8c672"),
    (circle, "o", 130, "#ffb966"),
    (purple_star, (8, 1, 0), 135, "#6a2cfc"),
]

sns.set_style("darkgrid")
plt.rcParams["font.family"] = ["Liberation Sans", "DejaVu Sans"]
plt.rcParams["ytick.alignment"] = "center"

fig = plt.figure(figsize=(13.5, 11.06), dpi=100)
ax = fig.add_axes([123 / 1350, 1 - 1033 / 1106, 1224 / 1350, 1031 / 1106])

for points, marker, size, color in CLASSES:
    xs = [p[0] for p in points]
    ys = [p[1] for p in points]
    ax.scatter(xs, ys, s=size, marker=MarkerStyle(marker), c=color, linewidths=0, zorder=3)

ax.set_xlim(-73.7, 73.7)
ax.set_ylim(-78.5, 76.3)
ax.set_xticks(X_TICKS)
ax.set_yticks(Y_TICKS)
ax.tick_params(axis="x", labelsize=40, length=0, pad=9.5)
ax.tick_params(axis="y", labelsize=40, length=0, pad=10)
ax.spines[["top", "right", "left", "bottom"]].set_visible(False)

# nudge the y labels down a little
nudge = ScaledTranslation(0, -3 / 100, fig.dpi_scale_trans)
for label in ax.get_yticklabels():
    label.set_transform(label.get_transform() + nudge)

fig.text(11 / 1350, 1 - 518 / 1106, ".", fontsize=4, color=".15", ha="center")

fig.savefig("out.png", dpi=100)
